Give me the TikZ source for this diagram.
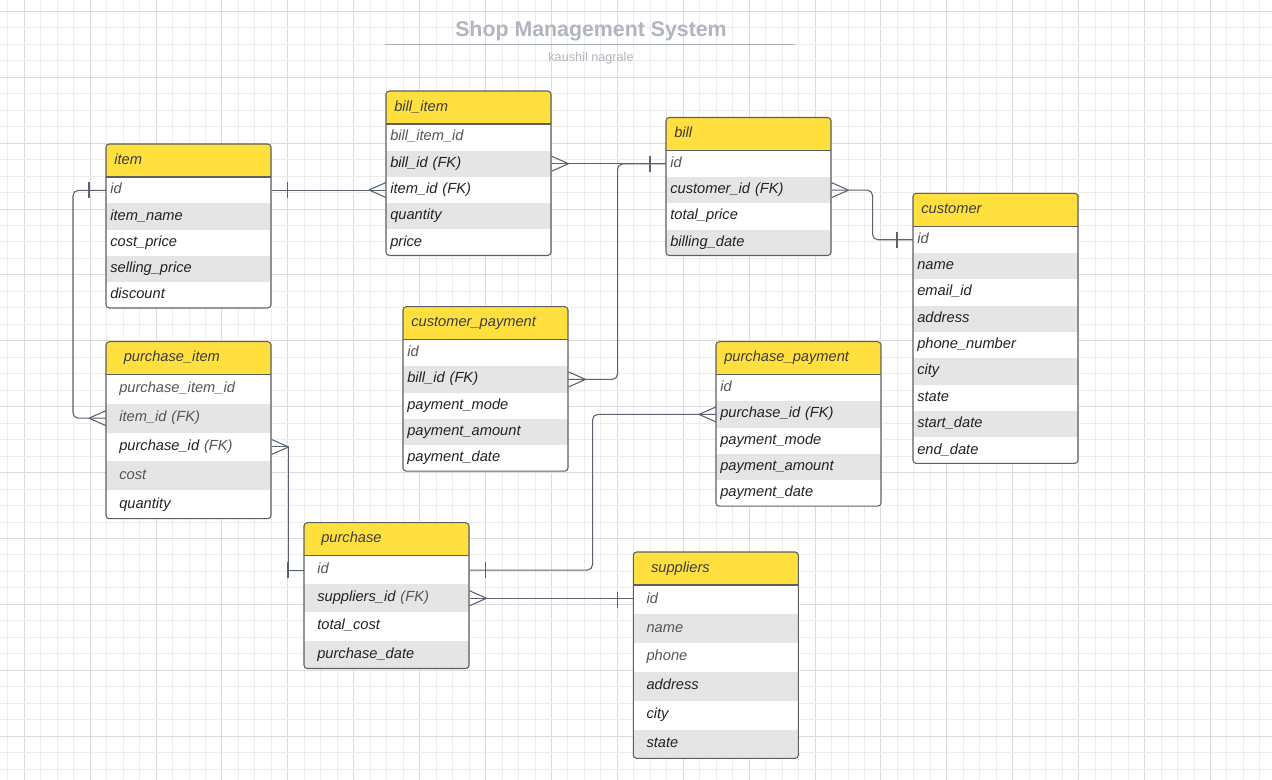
\documentclass[tikz,border=0pt]{standalone}
\usepackage{fontspec}
\setmainfont{Liberation Sans}
\usetikzlibrary{calc}
\definecolor{hdrc}{HTML}{FFE03E}
\definecolor{shd}{HTML}{E5E5E5}
\definecolor{bord}{HTML}{5E5E5E}
\definecolor{conc}{HTML}{5A6270}
\definecolor{txtd}{HTML}{222222}
\definecolor{txtg}{HTML}{555555}
\definecolor{hdrt}{HTML}{3C3C3C}
\definecolor{gmn}{HTML}{EDEDED}
\definecolor{gmj}{HTML}{DCDCDC}
\definecolor{ttl}{HTML}{B1B6BE}
\definecolor{ttlline}{HTML}{AAB0B8}
\newcommand\gtx[1]{\textcolor{txtg}{#1}}
\tikzset{
  rowbox/.style={rectangle, inner sep=0pt, anchor=north west, minimum width=123.75pt,
    align=left, font=\itshape\fontsize{11}{13}\selectfont, text=txtd, text height=8pt, text depth=2.8pt},
  hdrbox/.style={rectangle, inner sep=0pt, anchor=north west, minimum width=123.75pt, minimum height=24.75pt,
    fill=hdrc, align=left, font=\itshape\fontsize{11}{13}\selectfont, text=hdrt, text height=8pt, text depth=2.8pt},
  border/.style={draw=bord, line width=0.8pt},
  conn/.style={draw=conc, line width=0.8pt},
  gmin/.style={draw=gmn, line width=0.75pt},
  gmaj/.style={draw=gmj, line width=0.75pt}
}
% #1 id, #2 title, #3 x, #4 y, #5 row height, #6 rows, #7 row indent, #8 title indent, #9 rows
\newcommand\ertbl[9]{%
  \pgfmathsetmacro\tblh{33+#6*#5}%
  \pgfmathsetmacro\rowtw{(165-2*#7)*0.75}%
  \pgfmathsetmacro\hdrtw{(165-2*#8)*0.75}%
  \pgfmathsetmacro\rowhpt{#5*0.75}%
  \fill[white, rounded corners=2.5pt] (#3,#4) rectangle ++(165,\tblh);
  \begin{scope}
    \clip[rounded corners=2.5pt] (#3,#4) rectangle ++(165,\tblh);
    \node[hdrbox, text width=\hdrtw pt] (#1) at (#3,#4) {#2};
    \foreach \t/\s/\n [count=\i] in {#9} {
      \node[rowbox, fill=\s, minimum height=\rowhpt pt, text width=\rowtw pt] (#1-\n) at (#3,{#4+33+(\i-1)*#5}) {\t};
    }
  \end{scope}
  \draw[border] (#3,#4+33) -- ++(165,0);
  \draw[border, rounded corners=2.5pt] (#3,#4) rectangle ++(165,\tblh);
}
% crow's foot, apex to the left of a west anchor
\newcommand\crowL[1]{\draw[conn] ($(#1)+(-17,0)$) -- ($(#1)+(0,-7.5)$) ($(#1)+(-17,0)$) -- ($(#1)+(0,7.5)$);}
% crow's foot, apex to the right of an east anchor
\newcommand\crowR[1]{\draw[conn] ($(#1)+(17,0)$) -- ($(#1)+(0,-7.5)$) ($(#1)+(17,0)$) -- ($(#1)+(0,7.5)$);}
\newcommand\barAt[2]{\draw[conn] ($(#1)+(#2,-8)$) -- ($(#1)+(#2,8)$);}
\begin{document}
\begin{tikzpicture}[x=0.75pt,y=-0.75pt]
\useasboundingbox (0,0) rectangle (1272,780);
\fill[white] (0,0) rectangle (1272,780);
% grid (snapped to pixel centres)
\foreach \k in {0,...,77} {
  \pgfmathsetmacro\gx{floor(7.8+16.475*\k)+0.5}
  \pgfmathtruncatemacro\gm{mod(\k,4)}
  \ifnum\gm=1 \draw[gmaj] (\gx,0) -- (\gx,780); \else \draw[gmin] (\gx,0) -- (\gx,780); \fi
}
\foreach \k in {0,...,48} {
  \pgfmathsetmacro\gy{floor(-5.175+16.475*\k)+0.5}
  \pgfmathtruncatemacro\gm{mod(\k,4)}
  \ifnum\gm=1 \draw[gmaj] (0,\gy) -- (1272,\gy); \else \draw[gmin] (0,\gy) -- (1272,\gy); \fi
}
% title
\node[font=\bfseries\fontsize{16}{18}\selectfont, text=ttl] (title) at (591,31.5) {Shop Management System};
\draw[draw=ttlline, line width=1.3pt] (385,44.5) -- (795,44.5);
\node[font=\fontsize{9.5}{11}\selectfont, text=ttl] (author) at (591,58.5) {kaushil nagrale};
% tables
\ertbl{item}{item}{106}{144}{26.2}{5}{4}{8}{%
  \gtx{id}/white/id, item\_name/shd/name, cost\_price/white/cost, selling\_price/shd/sell, discount/white/disc}
\ertbl{bi}{bill\_item}{386}{91}{26.3}{5}{4}{8}{%
  \gtx{bill\_item\_id}/white/id, bill\_id (FK)/shd/billid, item\_id (FK)/white/itemid, quantity/shd/qty, price/white/price}
\ertbl{bill}{bill}{666}{117.5}{26.25}{4}{4}{8}{%
  \gtx{id}/white/id, customer\_id (FK)/shd/custid, total\_price/white/tot, billing\_date/shd/date}
\ertbl{cust}{customer}{913}{193.3}{26.35}{9}{4}{8}{%
  \gtx{id}/white/id, name/shd/name, email\_id/white/email, address/shd/addr, phone\_number/white/phone,
  city/shd/city, state/white/state, start\_date/shd/start, end\_date/white/end}
\ertbl{pi}{purchase\_item}{106}{341.7}{28.8}{5}{13}{17.5}{%
  \gtx{purchase\_item\_id}/white/id, \gtx{item\_id (FK)}/shd/itemid, purchase\_id \gtx{(FK)}/white/purid,
  \gtx{cost}/shd/cost, quantity/white/qty}
\ertbl{cp}{customer\_payment}{403}{306.7}{26.3}{5}{4}{8}{%
  \gtx{id}/white/id, bill\_id (FK)/shd/billid, payment\_mode/white/mode, payment\_amount/shd/amt, payment\_date/white/date}
\ertbl{pp}{purchase\_payment}{716}{341.7}{26.3}{5}{4}{8}{%
  \gtx{id}/white/id, purchase\_id (FK)/shd/purid, payment\_mode/white/mode, payment\_amount/shd/amt, payment\_date/white/date}
\ertbl{pur}{purchase}{304}{522.7}{28.2}{4}{13}{17}{%
  \gtx{id}/white/id, suppliers\_id \gtx{(FK)}/shd/supid, total\_cost/white/tot, purchase\_date/shd/date}
\ertbl{sup}{suppliers}{633.3}{552}{28.9}{6}{13}{17.5}{%
  \gtx{id}/white/id, \gtx{name}/shd/name, \gtx{phone}/white/phone, address/shd/addr, city/white/city, state/shd/state}
% connectors
% item.id -- bill_item.item_id
\draw[conn] (item-id.east) -- (item-id.east -| bi-itemid.west);
\barAt{item-id.east}{16}
\crowL{bi-itemid.west}
% item.id -- purchase_item.item_id
\draw[conn, rounded corners=4pt] (item-id.west) -- ++(-33,0) |- (pi-itemid.west);
\barAt{item-id.west}{-17}
\crowL{pi-itemid.west}
% bill_item.bill_id -- bill.id
\draw[conn] (bi-billid.east) -- (bi-billid.east -| bill-id.west);
\crowR{bi-billid.east}
\barAt{bill-id.west}{-16}
% customer_payment.bill_id -- bill.id
\draw[conn, rounded corners=4pt] (cp-billid.east) -- ++(49,0) |- (bill-id.west);
\crowR{cp-billid.east}
% bill.customer_id -- customer.id
\draw[conn, rounded corners=4pt] (bill-custid.east) -- ++(41,0) |- (cust-id.west);
\crowR{bill-custid.east}
\barAt{cust-id.west}{-16}
% purchase_item.purchase_id -- purchase.id
\draw[conn] (pi-purid.east) -- ++(17,0) |- (pur-id.west);
\crowR{pi-purid.east}
\barAt{pur-id.west}{-16}
% purchase.id -- purchase_payment.purchase_id
\draw[conn, rounded corners=4pt] (pur-id.east) -- ++(123,0) |- (pp-purid.west);
\barAt{pur-id.east}{16}
\crowL{pp-purid.west}
% purchase.suppliers_id -- suppliers.id
\draw[conn] (pur-supid.east) -- (pur-supid.east -| sup-id.west);
\crowR{pur-supid.east}
\barAt{sup-id.west}{-16}
\end{tikzpicture}
\end{document}
